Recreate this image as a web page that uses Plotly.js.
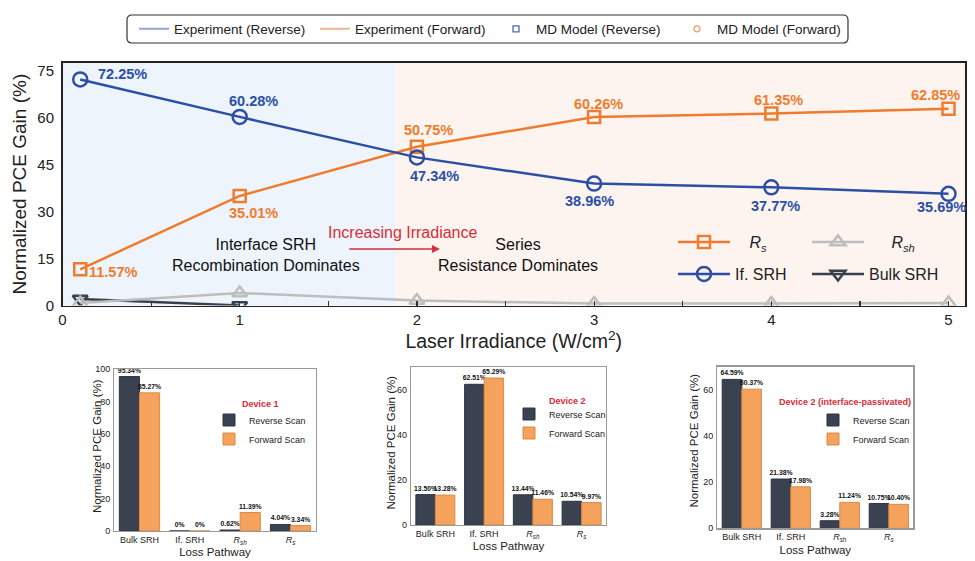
<!DOCTYPE html>
<html><head><meta charset="utf-8">
<script src="https://cdn.plot.ly/plotly-3.0.1.min.js"></script>
<style>html,body{margin:0;padding:0;background:#fff}#chart{width:975px;height:561px}</style>
</head><body><div id="chart"></div>
<script>
// ---------- data ----------
const irradiance = [0.1, 1, 2, 3, 4, 5];
const rsGain = [11.57, 35.01, 50.75, 60.26, 61.35, 62.85];
const ifSrhGain = [72.25, 60.28, 47.34, 38.96, 37.77, 35.69];
const rshGain = [0.8, 4.0, 1.6, 0.6, 0.6, 0.8];
const bulkSrhGain = [2.1, 0, null, null, null, null];
const xTicks = [0, 1, 2, 3, 4, 5];
const yTicks = [0, 15, 30, 45, 60, 75];

const pathways = ['Bulk SRH', 'If. SRH', '<i>R<sub>sh</sub></i>', '<i>R<sub>s</sub></i>'];
const dev1Reverse = [95.34, 0, 0.62, 4.04];
const dev1Forward = [85.27, 0, 11.39, 3.34];
const dev2Reverse = [13.50, 62.51, 13.44, 10.54];
const dev2Forward = [13.28, 65.29, 11.46, 9.97];
const dev2pReverse = [64.59, 21.38, 3.28, 10.75];
const dev2pForward = [60.37, 17.98, 11.24, 10.40];

const regionBoundary = 1.88;

// ---------- styles ----------
const FONT = 'Liberation Sans, Arial, sans-serif';
const blue = '#2c4fa5', orange = '#ef7c2e', gray = '#bdbdbd', dark = '#39404d';
const barDark = '#3a4150', barOrange = '#f4a25c';
const red = '#d62d3a';
const W = 975, H = 561;
const px = v => v / W, py = v => 1 - v / H;
const pct = v => v.toFixed(2) + '%';

// label offsets (pixels) for the value labels of the top chart
const ifLabelShift = [[42, 5.5], [14, 16], [18, -19], [-5, -17], [4, -19], [-7, -13]];
const rsLabelShift = [[33, -3], [14, -17], [12, 17], [4, 13], [7, 13.5], [-13, 14]];

const traces = [];
traces.push({type:'scatter', mode:'lines+markers', x:irradiance, y:bulkSrhGain, name:'Bulk SRH',
  line:{color:dark, width:2.5}, marker:{symbol:'triangle-down-open', size:13, color:dark, line:{width:2.5}},
  legend:'legend2', legendrank:2, xaxis:'x', yaxis:'y'});
traces.push({type:'scatter', mode:'lines+markers', x:irradiance, y:rshGain, name:'\u2003\u2009\u2009<i>R<sub>sh</sub></i>',
  line:{color:gray, width:2.5}, marker:{symbol:'triangle-up-open', size:13, color:gray, line:{width:2.5}},
  legend:'legend', legendrank:2, xaxis:'x', yaxis:'y'});
traces.push({type:'scatter', mode:'lines+markers', x:irradiance, y:rsGain, name:'\u2002\u2009\u2009<i>R<sub>s</sub></i>',
  line:{color:orange, width:2.5}, marker:{symbol:'square-open', size:12, color:orange, line:{width:2.5}},
  legend:'legend', legendrank:1, xaxis:'x', yaxis:'y'});
traces.push({type:'scatter', mode:'lines+markers', x:irradiance, y:ifSrhGain, name:'If. SRH',
  line:{color:blue, width:2.5}, marker:{symbol:'circle-open', size:14, color:blue, line:{width:2.5}},
  legend:'legend2', legendrank:1, xaxis:'x', yaxis:'y'});

// top legend (legend-only entries)
traces.push({type:'scatter', mode:'lines', x:[null], y:[null], name:'Experiment (Reverse)', line:{color:'#8ea6d6', width:2}, legend:'legend3', xaxis:'x', yaxis:'y'});
traces.push({type:'scatter', mode:'lines', x:[null], y:[null], name:'Experiment (Forward)', line:{color:'#f2b489', width:2}, legend:'legend3', xaxis:'x', yaxis:'y'});
traces.push({type:'scatter', mode:'markers', x:[null], y:[null], name:'MD Model (Reverse)', marker:{symbol:'square-open', size:6, color:'#4a68b0', line:{width:1.3}}, legend:'legend3', xaxis:'x', yaxis:'y'});
traces.push({type:'scatter', mode:'markers', x:[null], y:[null], name:'MD Model (Forward)', marker:{symbol:'circle-open', size:6, color:'#f0a065', line:{width:1.3}}, legend:'legend3', xaxis:'x', yaxis:'y'});

// bar charts
function barTrace(vals, name, color, lineColor, xa, ya, leg){
  return {type:'bar', x:pathways, y:vals, name:name,
    marker:{color:color, line:{color:lineColor, width:1}},
    text: vals.map(v => v === 0 ? '0%' : pct(v)), textposition:'outside', constraintext:'none',
    textfont:{size:6.8, color:'#111', weight:700, family:FONT}, cliponaxis:false,
    xaxis:xa, yaxis:ya, legend:leg};
}
traces.push(barTrace(dev1Reverse, 'Reverse Scan', barDark, '#2e3440', 'x2', 'y2', 'legend4'));
traces.push(barTrace(dev1Forward, 'Forward Scan', barOrange, '#d98a45', 'x2', 'y2', 'legend4'));
traces.push(barTrace(dev2Reverse, 'Reverse Scan', barDark, '#2e3440', 'x3', 'y3', 'legend5'));
traces.push(barTrace(dev2Forward, 'Forward Scan', barOrange, '#d98a45', 'x3', 'y3', 'legend5'));
traces.push(barTrace(dev2pReverse, 'Reverse Scan', barDark, '#2e3440', 'x4', 'y4', 'legend6'));
traces.push(barTrace(dev2pForward, 'Forward Scan', barOrange, '#d98a45', 'x4', 'y4', 'legend6'));

function roundRectPath(x0,y0,x1,y1,r){
  const X=v=>px(v).toFixed(5), Y=v=>py(v).toFixed(5);
  return `M${X(x0+r)},${Y(y0)} L${X(x1-r)},${Y(y0)} Q${X(x1)},${Y(y0)} ${X(x1)},${Y(y0+r)} L${X(x1)},${Y(y1-r)} Q${X(x1)},${Y(y1)} ${X(x1-r)},${Y(y1)} L${X(x0+r)},${Y(y1)} Q${X(x0)},${Y(y1)} ${X(x0)},${Y(y1-r)} L${X(x0)},${Y(y0+r)} Q${X(x0)},${Y(y0)} ${X(x0+r)},${Y(y0)} Z`;
}

const xMax = 5.093;
const smallAxisX = (dom, anchor) => ({domain:dom, anchor:anchor, type:'category', range:[-0.5,3.5],
  showline:true, mirror:true, linecolor:'#9a9a9a', linewidth:1.3, ticks:'', showgrid:false, zeroline:false,
  tickfont:{size:9, color:'#222'}, title:{text:'Loss Pathway', font:{size:11.5, color:'#222'}, standoff:3}, automargin:false});
const smallAxisY = (dom, anchor, rmax) => ({domain:dom, anchor:anchor, range:[0,rmax], dtick:20,
  showline:true, mirror:true, linecolor:'#9a9a9a', linewidth:1.3, ticks:'', showgrid:false, zeroline:false,
  tickfont:{size:9, color:'#222'}, ticklabelstandoff:1, automargin:false});
const barLegend = (x, y) => ({x:x, y:y, xanchor:'left', yanchor:'top', orientation:'v', bgcolor:'rgba(0,0,0,0)',
  font:{size:9, color:'#222'}, tracegroupgap:0});
const topLegend = (y) => ({orientation:'h', x:px(673), xanchor:'left', y:py(y), yanchor:'middle', bgcolor:'rgba(0,0,0,0)',
    font:{size:16, color:'#222'}, itemwidth:52, entrywidth:67, entrywidthmode:'pixels'});

const annotations = [
  {xref:'x', yref:'y', x:1.146, y:16.1, text:'Interface SRH<br>Recombination Dominates', showarrow:false, font:{size:16, color:'#111'}},
  {xref:'x', yref:'y', x:2.568, y:16.0, text:'Series<br>Resistance Dominates', showarrow:false, font:{size:16, color:'#111'}},
  {xref:'x', yref:'y', x:1.92, y:23.3, text:'Increasing Irradiance', showarrow:false, font:{size:16, color:red}},
  {xref:'x', yref:'y', axref:'x', ayref:'y', x:2.13, y:18.05, ax:1.61, ay:18.05, text:'', showarrow:true, arrowhead:2, arrowsize:1, arrowwidth:1.6, arrowcolor:red},
  {xref:'paper', yref:'paper', x:px(260), y:py(404), xanchor:'center', yanchor:'middle', text:'<b>Device 1</b>', showarrow:false, font:{size:9, color:red}},
  {xref:'paper', yref:'paper', x:px(567), y:py(401), xanchor:'center', yanchor:'middle', text:'<b>Device 2</b>', showarrow:false, font:{size:9, color:red}},
  {xref:'paper', yref:'paper', x:px(845), y:py(402), xanchor:'center', yanchor:'middle', text:'<b>Device 2 (interface-passivated)</b>', showarrow:false, font:{size:9, color:red}},
  {xref:'paper', yref:'paper', x:px(97), y:py(446), xanchor:'center', yanchor:'middle', textangle:-90, text:'Normalized PCE Gain (%)', showarrow:false, font:{size:11.5, color:'#222'}},
  {xref:'paper', yref:'paper', x:px(390), y:py(442.5), xanchor:'center', yanchor:'middle', textangle:-90, text:'Normalized PCE Gain (%)', showarrow:false, font:{size:11.5, color:'#222'}},
  {xref:'paper', yref:'paper', x:px(693.5), y:py(441), xanchor:'center', yanchor:'middle', textangle:-90, text:'Normalized PCE Gain (%)', showarrow:false, font:{size:11.5, color:'#222'}}
];
// value labels of the top chart, from the data arrays
ifSrhGain.forEach((v, i) => annotations.push({xref:'x', yref:'y', x:irradiance[i], y:v, text:'<b>' + pct(v) + '</b>', showarrow:false,
  xshift:ifLabelShift[i][0], yshift:ifLabelShift[i][1], font:{size:14.5, color:blue}}));
rsGain.forEach((v, i) => annotations.push({xref:'x', yref:'y', x:irradiance[i], y:v, text:'<b>' + pct(v) + '</b>', showarrow:false,
  xshift:rsLabelShift[i][0], yshift:rsLabelShift[i][1], font:{size:14.5, color:orange}}));

const layout = {
  width:W, height:H, margin:{l:0,r:0,t:0,b:0}, paper_bgcolor:'#fff', plot_bgcolor:'rgba(0,0,0,0)',
  font:{family:FONT, color:'#222'}, showlegend:true, barmode:'group', bargap:0.2, bargroupgap:0,
  xaxis:{domain:[px(62.5), px(965)], anchor:'y', range:[0, xMax], tickvals:xTicks, ticks:'inside', ticklen:5, tickwidth:1.2, tickcolor:'#333',
    minor:{tickvals:[0.5,1.5,2.5,3.5,4.5], ticks:'inside', ticklen:5, tickwidth:1.2, tickcolor:'#333'},
    showline:true, mirror:true, linecolor:'#222', linewidth:1.5, showgrid:false, zeroline:false,
    tickfont:{size:15, color:'#222'}, title:{text:'Laser Irradiance (W/cm<sup>2</sup>)', font:{size:19.5, color:'#222'}, standoff:0}, automargin:false},
  yaxis:{domain:[py(305.5), py(62.7)], anchor:'x', range:[0, 77.6], tickvals:yTicks, ticks:'',
    showline:true, mirror:true, linecolor:'#222', linewidth:1.5, showgrid:false, zeroline:false, ticklabelstandoff:4,
    tickfont:{size:15, color:'#222'}, title:{text:'Normalized PCE Gain (%)', font:{size:19, color:'#222'}, standoff:5}, automargin:false},
  xaxis2: smallAxisX([px(114.3), px(315.7)], 'y2'),
  yaxis2: smallAxisY([py(531), py(369)], 'x2', 100),
  xaxis3: smallAxisX([px(411), px(606)], 'y3'),
  yaxis3: smallAxisY([py(525), py(367)], 'x3', 70.2),
  xaxis4: smallAxisX([px(717.3), px(913.3)], 'y4'),
  yaxis4: smallAxisY([py(528.3), py(366.7)], 'x4', 70.1),
  legend: topLegend(242),
  legend2: topLegend(274),
  legend3:{orientation:'h', x:px(134), xanchor:'left', y:py(29), yanchor:'middle', bgcolor:'rgba(0,0,0,0)',
    font:{size:13.5, color:'#222'}, entrywidth:136, entrywidthmode:'pixels'},
  legend4: barLegend(px(209), py(405.5)),
  legend5: barLegend(px(509), py(399.5)),
  legend6: barLegend(px(813), py(405.5)),
  shapes:[
    {type:'rect', xref:'x', yref:'y domain', x0:0, x1:regionBoundary, y0:0, y1:1, fillcolor:'#edf4fc', line:{width:0}, layer:'below'},
    {type:'rect', xref:'x', yref:'y domain', x0:regionBoundary, x1:xMax, y0:0, y1:1, fillcolor:'#fdf4ef', line:{width:0}, layer:'below'},
    {type:'path', xref:'paper', yref:'paper', path:roundRectPath(127,15,848,43,5), line:{color:'#333', width:1.2}, fillcolor:'rgba(0,0,0,0)'}
  ],
  annotations: annotations
};

Plotly.newPlot('chart', traces, layout, {staticPlot:true, displayModeBar:false});
</script>
</body></html>
